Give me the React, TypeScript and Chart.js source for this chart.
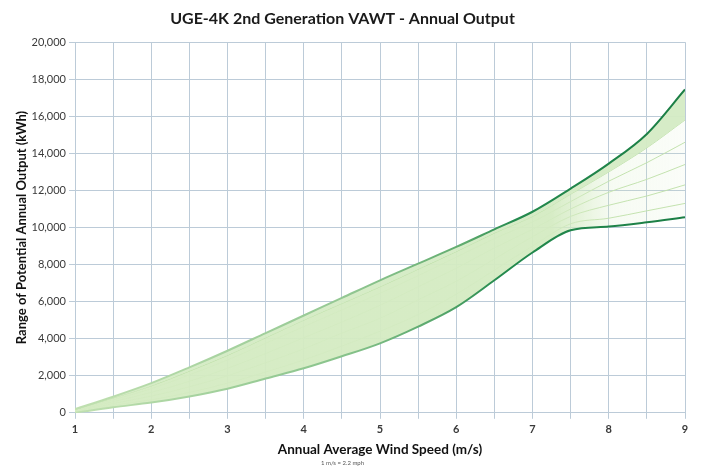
import React, { useEffect, useRef } from 'react';
import { Chart, registerables } from 'chart.js';

Chart.register(...registerables);

const windSpeeds = [1, 1.5, 2, 2.5, 3, 3.5, 4, 4.5, 5, 5.5, 6, 6.5, 7, 7.5, 8, 8.5, 9];
const upperOutput = [200, 870, 1600, 2450, 3350, 4300, 5250, 6200, 7150, 8050, 8950, 9900, 10850, 12100, 13450, 15050, 17450];
const lowerOutput = [0, 300, 550, 880, 1300, 1850, 2400, 3050, 3750, 4650, 5700, 7150, 8650, 9850, 10050, 10280, 10550];
const fanLine5 = [180, 800, 1450, 2250, 3100, 4050, 5000, 5900, 6800, 7750, 8700, 9700, 10600, 11800, 13000, 14300, 15800];
const fanLine4 = [150, 700, 1300, 2050, 2850, 3750, 4650, 5550, 6450, 7400, 8400, 9400, 10300, 11400, 12500, 13500, 14600];
const fanLine3 = [100, 600, 1100, 1700, 2400, 3200, 4050, 4900, 5800, 6800, 7800, 8900, 9900, 11000, 11900, 12600, 13400];
const fanLine2 = [50, 500, 900, 1400, 2000, 2700, 3450, 4300, 5100, 6100, 7100, 8300, 9500, 10600, 11200, 11700, 12300];
const fanLine1 = [0, 400, 700, 1100, 1600, 2200, 2850, 3600, 4400, 5300, 6400, 7700, 9000, 10200, 10500, 10900, 11300];

const chartTitle = 'UGE-4K 2nd Generation VAWT - Annual Output';
const xTitle = 'Annual Average Wind Speed (m/s)';
const yTitle = 'Range of Potential Annual Output (kWh)';
const noteText = '1 m/s = 2.2 mph';

const toPoints = (vals: number[]) => vals.map((v, i) => ({ x: windSpeeds[i], y: v }));

function hGradient(ctx: any, stops: [number, string][], fallback: string) {
  const chart = ctx.chart;
  const area = chart.chartArea;
  if (!area) return fallback;
  const g = chart.ctx.createLinearGradient(area.left, 0, area.right, 0);
  stops.forEach(([p, c]) => g.addColorStop(p, c));
  return g;
}

const upperStops: [number, string][] = [[0, '#c0e0b0'], [0.45, '#92c792'], [0.64, '#5fab6e'], [0.72, '#248a4e'], [1, '#1b7e45']];
const lowerStops: [number, string][] = [[0, '#c0e0b0'], [0.45, '#86c28a'], [0.6, '#56a66b'], [0.7, '#248a4e'], [1, '#1b7e45']];
const lowFillStops: [number, string][] = [[0, 'rgba(212,235,194,0.95)'], [0.78, 'rgba(212,235,194,0.95)'], [0.88, 'rgba(212,235,194,0.2)'], [1, 'rgba(212,235,194,0.1)']];

export default function App() {
  const ref = useRef<HTMLCanvasElement | null>(null);

  useEffect(() => {
    if (!ref.current) return;
    const fan = (vals: number[], label: string, extra: any = {}) => ({
      label,
      data: toPoints(vals),
      borderColor: 'rgba(190,223,168,0.95)',
      borderWidth: 1,
      pointRadius: 0,
      fill: false,
      cubicInterpolationMode: 'monotone',
      ...extra,
    });
    const chart = new Chart(ref.current, {
      type: 'line',
      data: {
        datasets: [
          {
            label: 'Upper',
            data: toPoints(upperOutput),
            borderColor: (c: any) => hGradient(c, upperStops, '#1b7e45'),
            borderWidth: 2,
            pointRadius: 0,
            fill: 2,
            backgroundColor: 'rgba(212,235,196,0.95)',
            cubicInterpolationMode: 'monotone',
          },
          {
            label: 'Lower',
            data: toPoints(lowerOutput),
            borderColor: (c: any) => hGradient(c, lowerStops, '#1b7e45'),
            borderWidth: 2,
            pointRadius: 0,
            fill: false,
            cubicInterpolationMode: 'monotone',
          },
          fan(fanLine5, 'F5', { fill: 1, backgroundColor: (c: any) => hGradient(c, lowFillStops, 'rgba(212,235,194,0.9)') }),
          fan(fanLine4, 'F4'),
          fan(fanLine3, 'F3'),
          fan(fanLine2, 'F2'),
          fan(fanLine1, 'F1'),
        ],
      },
      options: {
        animation: false,
        responsive: false,
        layout: { padding: { left: 0, right: 16, top: 0, bottom: 0 } },
        plugins: {
          legend: { display: false },
          tooltip: { enabled: false },
          title: {
            display: true,
            text: chartTitle,
            color: '#1a1a1a',
            font: { family: 'Lato', size: 16, weight: 'bold' },
            padding: { top: 9, bottom: 14 },
          },
          subtitle: {
            display: true,
            position: 'bottom',
            text: noteText,
            color: '#555',
            font: { family: 'Lato', size: 6 },
            padding: { top: 0, bottom: 2 },
          },
        },
        scales: {
          x: {
            type: 'linear',
            min: 1,
            max: 9,
            ticks: {
              stepSize: 0.5,
              color: '#3a3a3a',
              font: { family: 'Lato', size: 11, weight: 'bold' },
              padding: 4,
              maxRotation: 0,
              autoSkip: false,
              callback: (v: any) => (Number.isInteger(v) ? String(v) : ''),
            },
            grid: { color: '#bccbd8', lineWidth: 1, tickLength: 6 },
            border: { color: '#bccbd8' },
            title: {
              display: true,
              text: xTitle,
              color: '#111',
              font: { family: 'Lato', size: 13.5, weight: 'bold' },
              padding: { top: 2, bottom: 2 },
            },
            afterFit: (s: any) => { s.height = 47; },
          },
          y: {
            type: 'linear',
            min: 0,
            max: 20000,
            ticks: {
              stepSize: 2000,
              color: '#3a3a3a',
              font: { family: 'Lato', size: 11 },
              padding: 3,
              callback: (v: any) => Number(v).toLocaleString('en-US'),
            },
            grid: { color: '#bccbd8', lineWidth: 1, tickLength: 6 },
            border: { color: '#bccbd8' },
            title: {
              display: true,
              text: yTitle,
              color: '#111',
              font: { family: 'Lato', size: 13, weight: 'bold' },
              padding: { top: 14, bottom: 0 },
            },
            afterFit: (s: any) => { s.width = 75; },
          },
        },
      },
    } as any);
    return () => chart.destroy();
  }, []);

  return (
    <div style={{ position: 'fixed', left: 0, top: 0, width: 701, height: 469, background: '#fff' }}>
      <canvas ref={ref} width={701} height={469} style={{ width: 701, height: 469, display: 'block' }} />
    </div>
  );
}
